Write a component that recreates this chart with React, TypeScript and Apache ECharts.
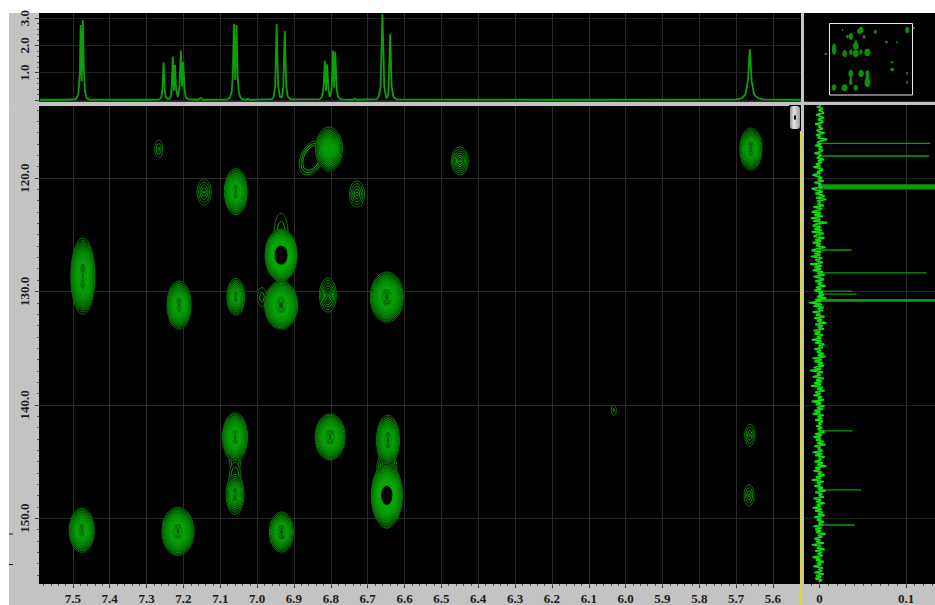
import React, { useEffect, useRef } from "react";
import * as echarts from "echarts";

// Proton axis (direct dimension) ticks
const ppmTicks = [7.5, 7.4, 7.3, 7.2, 7.1, 7.0, 6.9, 6.8, 6.7, 6.6, 6.5, 6.4, 6.3, 6.2, 6.1, 6.0, 5.9, 5.8, 5.7, 5.6];
const ppmMinor: number[] = [];
for (let i = 280; i <= 379; i++) ppmMinor.push(i / 50);
// Carbon axis (indirect dimension) ticks
const carbonTicks = [120, 130, 140, 150];
const carbonMinor: number[] = [];
for (let i = 114; i <= 155; i++) carbonMinor.push(i);
const topTicks = [0, 1, 2, 3];
const topLabels = [1, 2, 3];
const topMinor = [0, 0.2, 0.4, 0.6, 0.8, 1, 1.2, 1.4, 1.6, 1.8, 2, 2.2, 2.4, 2.6, 2.8, 3];
const sideTicks = [0, 0.1];
const sideMinor = [-0.01, 0, 0.01, 0.02, 0.03, 0.04, 0.05, 0.06, 0.07, 0.08, 0.09, 0.1, 0.11, 0.12, 0.13];

// 1D proton trace across the top
const topPpm = [7.59, 7.535, 7.495, 7.49, 7.485, 7.481, 7.479, 7.476, 7.473, 7.47, 7.467, 7.462, 7.454, 7.3, 7.265, 7.26, 7.257, 7.254, 7.251, 7.248, 7.243, 7.238, 7.234, 7.232, 7.229, 7.226, 7.223, 7.22, 7.215, 7.211, 7.207, 7.204, 7.2006, 7.197, 7.194, 7.188, 7.16, 7.153, 7.147, 7.08, 7.074, 7.069, 7.066, 7.063, 7.0595, 7.056, 7.053, 7.05, 7.045, 7.038, 7.03, 7.025, 7.02, 6.96, 6.955, 6.951, 6.947, 6.943, 6.938, 6.936, 6.932, 6.929, 6.925, 6.921, 6.917, 6.91, 6.83, 6.825, 6.82, 6.816, 6.813, 6.81, 6.806, 6.803, 6.798, 6.794, 6.791, 6.788, 6.784, 6.78, 6.772, 6.74, 6.735, 6.73, 6.675, 6.67, 6.665, 6.66, 6.655, 6.65, 6.648, 6.645, 6.643, 6.639, 6.635, 6.63, 6.62, 6.2, 5.7, 5.685, 5.675, 5.668, 5.663, 5.658, 5.651, 5.64, 5.625, 5.524];
const topIntensity = [0.01, 0.01, 0.02, 0.05, 0.25, 1.0, 2.75, 0.68, 2.93, 1.0, 0.3, 0.06, 0.015, 0.01, 0.02, 0.1, 0.4, 1.38, 0.4, 0.1, 0.03, 0.04, 0.12, 0.4, 1.59, 0.34, 1.29, 0.4, 0.12, 0.4, 1.81, 0.5, 1.4, 0.4, 0.1, 0.03, 0.01, 0.07, 0.01, 0.02, 0.08, 0.3, 0.9, 2.79, 0.73, 2.75, 0.9, 0.3, 0.08, 0.02, 0.01, 0.04, 0.01, 0.03, 0.12, 0.5, 2.78, 0.5, 0.12, 0.08, 0.15, 0.5, 2.53, 0.5, 0.12, 0.02, 0.03, 0.1, 0.4, 1.44, 0.33, 1.31, 0.35, 0.12, 0.35, 1.81, 0.45, 1.77, 0.4, 0.1, 0.02, 0.01, 0.04, 0.01, 0.03, 0.12, 0.5, 3.15, 0.5, 0.1, 0.06, 0.15, 0.5, 2.42, 0.5, 0.1, 0.02, 0.01, 0.02, 0.06, 0.2, 0.7, 1.87, 0.7, 0.2, 0.06, 0.02, 0.01];

// Side carbon projection: noise (in thousandths) read down the axis
const noiseThousandths = [2, -3, 4, -1, 3, 5, -4, 1, 5, -2, 3, 4, -5, 2, -1, 4, -3, -1, 6, -4, 1, -2, 9, 2, -3, 2, -5, 3, -1, 4, 1, -6, 2, 0, -3, 5, -2, 3, -4, 1, -7, 2, 4, -3, 1, -8, -2, 3, -2, 5, -6, 2, -1, 3, -9, -3, 4, -5, 2, 6, -4, 8, -3, 1, -2, 5, -7, 3, -1, -9, 2, -6, 4, -10, 1, -7, 9, -4, -8, 2, -6, 3, -9, 5, -3, -7, 6, -5, 2, -8, 1, -4, 7, -3, -9, 2, -6, 1, -10, 3, -5, -2, 4, -11, 3, -6, 2, -8, 4, -3, 6, -7, 1, 5, -5, 3, -2, 7, -4, 2, -6, 4, -1, 5, -3, 8, -5, 2, -12, 3, -7, 5, -2, 4, -8, 1, -4, 6, -6, 3, -3, 8, -5, 4, -2, 5, -7, 1, -6, 4, -3, 2, -9, 3, -5, 6, -1, 4, -6, 2, -3, 5, -2, 7, -8, 3, -6, 4, -2, 5, -7, 2, -11, 4, -3, 1, -8, 5, -4, 3, -6, 2, -10, 4, -3, 6, -5, 1, -7, 3, -2, 5, -9, 2, -4, 6, -3, 4, -6, 1, -8, 5, -2, 3, -5, 4, -1, 2, -4, 3, -2, 1, 6, -5, 3, -7, 2, -4, 5, -3, 7, -6, 1, -2, 4, -8, 3, -5, 6, -1, 2, -6, 4, -3, 8, -5, 1, -7, 3, -2, 6, -4, 2, -9, 5, -3, 1, -6, 4, -2, 7, -5, 3, -1, 5, -7, 2, -4, 6, -3, 1, -8, 3, -5, 4, -2, 6, -6, 2, -3, 5, -1, 4, -7, 3, -5, 2, -4, 7, -2, 3, -6, 1, -4, 5, -9, 2, -3, 6, -5, 3, -2, 4, -8, 1, -4, 5, -3, 2, -7, 4, -1, 3, -6, 5, -4, 2, -5, 3, -1];
const noiseStart = 113.6;
const noiseEnd = 155.6;
const spikeCarbon = [116.94, 118.06, 120.62, 120.7, 120.78, 120.86, 120.94, 126.35, 128.36, 129.97, 130.24, 130.74, 130.84, 142.3, 147.5, 150.6];
const spikeHeight = [0.128, 0.1266, 0.18, 0.18, 0.18, 0.18, 0.18, 0.037, 0.124, 0.038, 0.043, 0.18, 0.18, 0.038, 0.048, 0.041];

// Contour peaks, drawn in this order
const peakPpm = [6.935, 6.987, 6.851, 7.06, 7.06, 6.648, 6.648, 7.473, 7.212, 7.058, 7.058, 6.935, 6.935, 6.805, 6.729, 6.808, 6.648, 7.144, 7.267, 6.45, 5.66, 6.032, 5.663, 5.665, 7.06, 7.06, 6.802, 6.934, 6.645, 6.648, 7.476, 7.215];
const peakCarbon = [124.94, 130.5, 118.23, 144.71, 146.48, 145.6, 150.0, 128.65, 131.2, 121.2, 130.48, 126.8, 131.2, 117.44, 121.41, 130.33, 130.5, 121.24, 117.44, 118.5, 117.44, 140.48, 142.68, 147.98, 142.83, 147.89, 142.83, 151.22, 143.12, 147.98, 151.07, 151.16];
const peakWidth = [0.019, 0.012, 0.03, 0.016, 0.016, 0.027, 0.02, 0.0326, 0.0326, 0.031, 0.024, 0.0434, 0.0448, 0.0366, 0.0204, 0.023, 0.0448, 0.019, 0.0109, 0.023, 0.03, 0.0068, 0.0136, 0.0136, 0.034, 0.0244, 0.0407, 0.0326, 0.0312, 0.0421, 0.034, 0.0434];
const peakHeight = [1.85, 0.84, 1.6, 1.41, 1.41, 1.59, 0.88, 3.35, 2.12, 2.03, 1.63, 2.29, 2.12, 1.94, 1.15, 1.5, 2.21, 1.15, 0.79, 1.24, 1.85, 0.44, 0.97, 0.93, 2.12, 1.77, 2.03, 1.77, 2.21, 2.82, 1.94, 2.12];
const peakLevels = [2, 2, 3, 2, 2, 4, 4, 16, 14, 14, 10, 16, 18, 11, 5, 7, 16, 5, 3, 7, 12, 2, 4, 4, 15, 9, 16, 12, 13, 16, 14, 17];
const peakCore = [0.6, 0.5, 0.72, 0.7, 0.7, 0.5, 0.3, 0.1, 0.1, 0.1, 0.1, 0.38, 0.15, 0.1, 0.15, 0.1, 0.12, 0.1, 0.2, 0.1, 0.1, 0.3, 0.15, 0.15, 0.1, 0.1, 0.1, 0.15, 0.12, 0.31, 0.08, 0.1];
const peakCoreWide = [0.6, 0.5, 0.72, 0.7, 0.7, 0.5, 0.3, 0.1, 0.1, 0.1, 0.1, 0.43, 0.15, 0.1, 0.15, 0.1, 0.12, 0.1, 0.2, 0.1, 0.1, 0.3, 0.15, 0.15, 0.1, 0.1, 0.1, 0.15, 0.12, 0.39, 0.08, 0.1];
const peakTilt = [0, 0, -0.45, 0, 0, 0, 0, 0, 0, 0, 0, 0, 0, 0, 0, 0, 0, 0, 0, 0, 0, 0, 0, 0, 0, 0, 0, 0, 0, 0, 0, 0];

// Extra faint cross peaks only shown in the overview
const overviewPpm = [6.175, 5.915, 6.037, 6.032, 5.5, 7.68];
const overviewCarbon = [124.6, 124.6, 136.3, 140.48, 116.3, 131.5];
const overviewWidth = [0.02, 0.02, 0.022, 0.03, 0.02, 0.02];
const overviewHeight = [0.7, 0.5, 0.6, 1.0, 0.6, 0.7];

const peakRows = peakPpm.map((p, i) => [p, peakCarbon[i], peakWidth[i], peakHeight[i], peakLevels[i], peakCore[i], peakTilt[i], peakCoreWide[i]]);
const overviewRows = [
  ...peakPpm.map((p, i) => [p, peakCarbon[i], peakWidth[i], peakHeight[i]]),
  ...overviewPpm.map((p, i) => [p, overviewCarbon[i], overviewWidth[i], overviewHeight[i]]),
];
const noiseRows = noiseThousandths.map((v, i) => [
  v / 1000,
  noiseStart + (i * (noiseEnd - noiseStart)) / (noiseThousandths.length - 1),
]);
const spikeRows: number[][] = [];
spikeCarbon.forEach((c, i) => {
  spikeRows.push([0, c], [spikeHeight[i], c], [0, c]);
});

const GRID_DIM = "#2a2a2a";
const LABEL = {
  color: "#1c1c1c",
  fontFamily: '"Liberation Serif"',
  fontWeight: "bold" as const,
  fontSize: 13,
};

function contourItem(_params: any, api: any) {
  const c = api.coord([api.value(0), api.value(1)]);
  const rx = api.size([api.value(2), 0])[0];
  const ry = api.size([0, api.value(3)])[1];
  const n = api.value(4);
  const core = api.value(5);
  const tilt = api.value(6);
  const coreWide = api.value(7);
  const dense = n >= 9;
  const hollow = core >= 0.25;
  const children: any[] = [];
  for (let i = 0; i < n; i++) {
    const t = n > 1 ? i / (n - 1) : 0;
    const sy = 1 - (1 - core) * t;
    const sx = 1 - (1 - coreWide) * t;
    const g = Math.round(118 + 50 * Math.min(1, t * 1.4));
    let fill = "none";
    if (i === 0) fill = "#000";
    else if (dense && (hollow || t < 0.72)) fill = "rgba(8,175,8,0.2)";
    else if (dense && t < 0.8) fill = "rgba(0,0,0,0.55)";
    if (dense && hollow && i === n - 1) fill = "#000";
    children.push({
      type: "ellipse",
      shape: { cx: c[0], cy: c[1], rx: rx * sx, ry: ry * sy },
      rotation: tilt,
      originX: c[0],
      originY: c[1],
      style: { fill, stroke: `rgb(6,${g},6)`, lineWidth: 1 },
    });
  }
  return { type: "group", children };
}

function overviewItem(_params: any, api: any) {
  const c = api.coord([api.value(0), api.value(1)]);
  const rx = api.size([api.value(2), 0])[0] * 1.7;
  const ry = api.size([0, api.value(3)])[1];
  return {
    type: "ellipse",
    shape: { cx: c[0], cy: c[1], rx, ry },
    style: { fill: "#0a8f0a" },
  };
}

function ppmAxis(grid: number, min: number, max: number, bottomLabels: boolean, minor: boolean, inverse: boolean, major: number[], minorTicks: number[]) {
  if (minor) {
    return {
      type: "value", gridIndex: grid, min, max, inverse, position: "bottom",
      axisLine: { show: false }, splitLine: { show: false }, axisLabel: { show: false },
      axisTick: { show: bottomLabels, length: 2, customValues: minorTicks, lineStyle: { color: "#555" } },
    };
  }
  return {
    type: "value", gridIndex: grid, min, max, inverse, position: "bottom",
    axisLine: { show: false },
    splitLine: { show: true, lineStyle: { color: GRID_DIM, width: 1 } },
    axisLabel: {
      show: bottomLabels, customValues: major, margin: 8, ...LABEL,
      formatter: (v: number) => (v === 0 ? "0" : v.toFixed(1)),
    },
    axisTick: { show: bottomLabels, length: 4, customValues: major, lineStyle: { color: "#333" } },
  };
}

function valueAxis(grid: number, min: number, max: number, inverse: boolean, showLabels: boolean, minor: boolean, major: number[], labels: number[], minorTicks: number[], dim: string) {
  if (minor) {
    return {
      type: "value", gridIndex: grid, min, max, inverse, position: "left",
      axisLine: { show: false }, splitLine: { show: false }, axisLabel: { show: false },
      axisTick: { show: showLabels, length: 2, customValues: minorTicks, lineStyle: { color: "#555" } },
    };
  }
  return {
    type: "value", gridIndex: grid, min, max, inverse, position: "left",
    axisLine: { show: false },
    splitLine: { show: true, lineStyle: { color: dim, width: 1 } },
    axisLabel: {
      show: showLabels, customValues: labels, rotate: 90, margin: 8, ...LABEL,
      formatter: (v: number) => v.toFixed(1),
    },
    axisTick: { show: showLabels, length: 4, customValues: major, lineStyle: { color: "#333" } },
  };
}

export default function App() {
  const ref = useRef<HTMLDivElement>(null);
  useEffect(() => {
    if (!ref.current) return;
    const chart = echarts.init(ref.current, undefined, { renderer: "svg" });
    const P_MIN = 5.524, P_MAX = 7.592;
    const C_MIN = 113.56, C_MAX = 155.8;
    chart.setOption({
      animation: false,
      backgroundColor: "#fff",
      grid: [
        { left: 39, top: 105, width: 762, height: 479, show: true, backgroundColor: "#000", borderWidth: 0 },
        { left: 39, top: 13, width: 762, height: 88.7, show: true, backgroundColor: "#000", borderWidth: 0 },
        { left: 804, top: 105, width: 131, height: 479, show: true, backgroundColor: "#000", borderWidth: 0 },
        { left: 804, top: 13, width: 131, height: 88.7, show: true, backgroundColor: "#000", borderWidth: 0 },
      ],
      xAxis: [
        ppmAxis(0, P_MIN, P_MAX, true, false, true, ppmTicks, ppmMinor),
        ppmAxis(0, P_MIN, P_MAX, true, true, true, ppmTicks, ppmMinor),
        ppmAxis(1, P_MIN, P_MAX, false, false, true, ppmTicks, ppmMinor),
        ppmAxis(2, -0.0179, 0.1335, true, false, false, sideTicks, sideMinor),
        ppmAxis(2, -0.0179, 0.1335, true, true, false, sideTicks, sideMinor),
        { type: "value", gridIndex: 3, min: 4.97, max: 8.22, inverse: true, show: false },
      ],
      yAxis: [
        valueAxis(0, C_MIN, C_MAX, true, true, false, carbonTicks, carbonTicks, carbonMinor, GRID_DIM),
        valueAxis(0, C_MIN, C_MAX, true, true, true, carbonTicks, carbonTicks, carbonMinor, GRID_DIM),
        valueAxis(1, -0.062, 3.187, false, true, false, topTicks, topLabels, topMinor, "#222"),
        valueAxis(1, -0.062, 3.187, false, true, true, topTicks, topLabels, topMinor, "#222"),
        valueAxis(2, C_MIN, C_MAX, true, false, false, carbonTicks, carbonTicks, carbonMinor, "#222"),
        { type: "value", gridIndex: 3, min: 107.5, max: 159.3, inverse: true, show: false },
      ],
      series: [
        {
          type: "custom", xAxisIndex: 0, yAxisIndex: 0, clip: true, silent: true,
          renderItem: contourItem, data: peakRows, encode: { x: 0, y: 1 },
        },
        {
          type: "line", xAxisIndex: 2, yAxisIndex: 2, silent: true, symbol: "none",
          data: topPpm.map((p, i) => [p, topIntensity[i]]),
          lineStyle: { color: "#0aa00a", width: 1.8 },
        },
        {
          type: "line", xAxisIndex: 3, yAxisIndex: 4, silent: true, symbol: "none",
          data: spikeRows, lineStyle: { color: "#0a9c0a", width: 1.4 },
        },
        {
          type: "line", xAxisIndex: 3, yAxisIndex: 4, silent: true, symbol: "none",
          data: noiseRows, lineStyle: { color: "#0ce00c", width: 1.7 },
        },
        {
          type: "custom", xAxisIndex: 5, yAxisIndex: 5, clip: true, silent: true,
          renderItem: overviewItem, data: overviewRows, encode: { x: 0, y: 1 },
        },
      ],
      graphic: [
        { type: "rect", z: -10, shape: { x: 9, y: 13, width: 926, height: 592 }, style: { fill: "#c3c3c3" } },
        { type: "rect", z: 100, shape: { x: 829.5, y: 23.5, width: 83, height: 71.5 }, style: { fill: "none", stroke: "#e8e8e8", lineWidth: 1 } },
        { type: "rect", z: 100, shape: { x: 9, y: 105, width: 780, height: 1 }, style: { fill: "#dede20" } },
        { type: "rect", z: 100, shape: { x: 800, y: 131, width: 1.5, height: 474 }, style: { fill: "#dede20" } },
        {
          type: "rect", z: 101, shape: { x: 790, y: 106, width: 10, height: 23, r: 3 },
          style: {
            fill: new echarts.graphic.LinearGradient(0, 0, 1, 0, [
              { offset: 0, color: "#8f8f8f" },
              { offset: 0.4, color: "#e6e6e6" },
              { offset: 1, color: "#9a9a9a" },
            ]),
          },
        },
        { type: "rect", z: 102, shape: { x: 794, y: 115.5, width: 2, height: 4 }, style: { fill: "#000" } },
        { type: "rect", z: 100, shape: { x: 9, y: 533.5, width: 4, height: 1 }, style: { fill: "#222" } },
        { type: "rect", z: 100, shape: { x: 9, y: 564, width: 4, height: 1 }, style: { fill: "#222" } },
      ],
    });
    return () => chart.dispose();
  }, []);
  return <div ref={ref} style={{ position: "fixed", left: 0, top: 0, width: 935, height: 605 }} />;
}
